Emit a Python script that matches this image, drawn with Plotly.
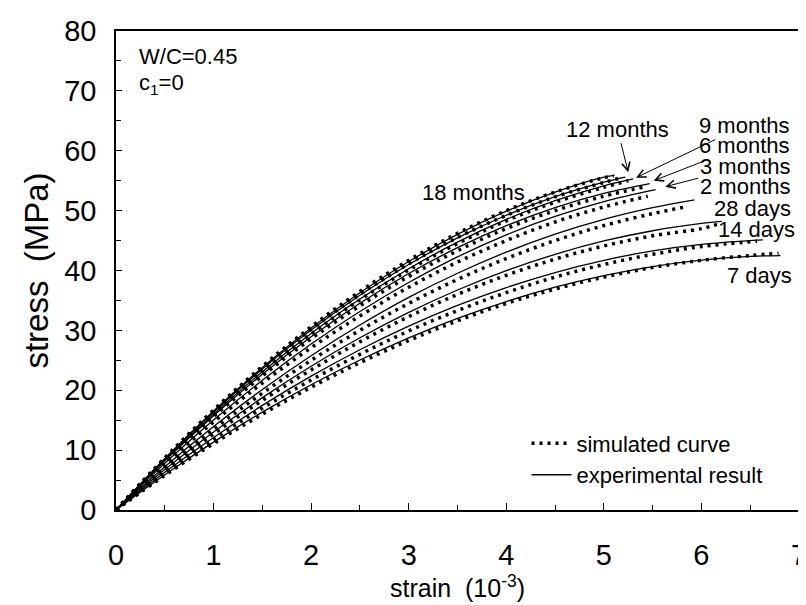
import plotly.graph_objects as go

# ---- data (strain in 1e-3, stress in MPa) ----
ages = ["7 days", "14 days", "28 days", "2 months", "3 months", "6 months", "9 months", "12 months", "18 months"]

exp_strain_7d = [0, 0.5, 1, 1.5, 2, 2.5, 3, 3.5, 4, 4.5, 5, 5.5, 6, 6.5, 6.81]
exp_stress_7d = [0, 5.88, 11.33, 16.35, 20.92, 25.05, 28.75, 32.01, 34.82, 37.21, 39.15, 40.66, 41.72, 42.36, 42.5]
sim_strain_7d = [0, 0.5, 1, 1.5, 2, 2.5, 3, 3.5, 4, 4.5, 5, 5.5, 6, 6.5, 6.79]
sim_stress_7d = [0, 5.8, 11.1, 16.0, 20.5, 24.6, 28.3, 31.6, 34.5, 36.9, 38.9, 40.5, 41.7, 42.5, 42.9]

exp_strain_14d = [0, 0.5, 1, 1.5, 2, 2.5, 3, 3.5, 4, 4.5, 5, 5.5, 6, 6.63]
exp_stress_14d = [0, 6.3, 12.12, 17.47, 22.36, 26.77, 30.7, 34.16, 37.14, 39.66, 41.7, 43.27, 44.36, 45.1]
sim_strain_14d = [0, 0.5, 1, 1.5, 2, 2.5, 3, 3.5, 4, 4.5, 5, 5.5, 6, 6.57]
sim_stress_14d = [0, 6.1, 11.8, 17.0, 21.7, 26.0, 29.9, 33.3, 36.3, 38.9, 41.0, 42.7, 44.0, 44.9]

exp_strain_28d = [0, 0.5, 1, 1.5, 2, 2.5, 3, 3.5, 4, 4.5, 5, 5.5, 6, 6.21]
exp_stress_28d = [0, 6.76, 13.02, 18.77, 24.02, 28.77, 33.0, 36.74, 39.98, 42.7, 44.93, 46.64, 47.86, 48.2]
sim_strain_28d = [0, 0.5, 1, 1.5, 2, 2.5, 3, 3.5, 4, 4.5, 5, 5.5, 6, 6.18]
sim_stress_28d = [0, 6.6, 12.7, 18.3, 23.4, 28.1, 32.3, 36.0, 39.2, 41.9, 44.1, 45.8, 47.0, 47.8]

exp_strain_2m = [0, 0.5, 1, 1.5, 2, 2.5, 3, 3.5, 4, 4.5, 5, 5.5, 5.93]
exp_stress_2m = [0, 7.24, 13.94, 20.12, 25.77, 30.89, 35.5, 39.54, 43.07, 46.08, 48.55, 50.5, 51.8]
sim_strain_2m = [0, 0.5, 1, 1.5, 2, 2.5, 3, 3.5, 4, 4.5, 5, 5.5, 5.86]
sim_stress_2m = [0, 7.0, 13.5, 19.5, 25.0, 30.0, 34.5, 38.5, 42.0, 45.0, 47.5, 49.5, 50.7]

exp_strain_3m = [0, 0.5, 1, 1.5, 2, 2.5, 3, 3.5, 4, 4.5, 5, 5.53]
exp_stress_3m = [0, 7.81, 15.04, 21.67, 27.71, 33.16, 38.0, 42.28, 45.95, 49.03, 51.52, 53.5]
sim_strain_3m = [0, 0.5, 1, 1.5, 2, 2.5, 3, 3.5, 4, 4.5, 5, 5.45]
sim_stress_3m = [0, 7.6, 14.7, 21.2, 27.1, 32.4, 37.2, 41.4, 45.0, 48.1, 50.6, 52.4]

exp_strain_6m = [0, 0.5, 1, 1.5, 2, 2.5, 3, 3.5, 4, 4.5, 5, 5.47]
exp_stress_6m = [0, 8.21, 15.76, 22.67, 28.93, 34.54, 39.5, 43.82, 47.49, 50.51, 52.87, 54.5]
sim_strain_6m = [0, 0.5, 1, 1.5, 2, 2.5, 3, 3.5, 4, 4.5, 5, 5.40]
sim_stress_6m = [0, 8.1, 15.6, 22.4, 28.6, 34.1, 39.0, 43.3, 47.0, 50.0, 52.4, 53.9]

exp_strain_9m = [0, 0.5, 1, 1.5, 2, 2.5, 3, 3.5, 4, 4.5, 5, 5.30]
exp_stress_9m = [0, 8.35, 16.05, 23.09, 29.48, 35.23, 40.3, 44.75, 48.54, 51.67, 54.15, 55.3]
sim_strain_9m = [0, 0.5, 1, 1.5, 2, 2.5, 3, 3.5, 4, 4.5, 5, 5.25]
sim_stress_9m = [0, 8.4, 16.1, 23.1, 29.4, 35.1, 40.1, 44.5, 48.3, 51.4, 53.9, 55.0]

exp_strain_12m = [0, 0.5, 1, 1.5, 2, 2.5, 3, 3.5, 4, 4.5, 5, 5.22]
exp_stress_12m = [0, 8.53, 16.38, 23.55, 30.05, 35.86, 41.0, 45.45, 49.23, 52.33, 54.75, 55.6]
sim_strain_12m = [0, 0.5, 1, 1.5, 2, 2.5, 3, 3.5, 4, 4.5, 5, 5.18]
sim_stress_12m = [0, 8.6, 16.5, 23.7, 30.2, 36.0, 41.1, 45.5, 49.2, 52.3, 54.7, 55.5]

exp_strain_18m = [0, 0.5, 1, 1.5, 2, 2.5, 3, 3.5, 4, 4.5, 5, 5.11]
exp_stress_18m = [0, 8.61, 16.54, 23.8, 30.38, 36.27, 41.5, 46.04, 49.9, 53.09, 55.6, 55.9]
sim_strain_18m = [0, 0.5, 1, 1.5, 2, 2.5, 3, 3.5, 4, 4.5, 5, 5.10]
sim_stress_18m = [0, 8.7, 16.7, 24.0, 30.6, 36.5, 41.7, 46.2, 50.0, 53.1, 55.5, 55.8]

x_ticks = [0, 1, 2, 3, 4, 5, 6, 7]
y_ticks = [0, 10, 20, 30, 40, 50, 60, 70, 80]

# label positions (strain, stress) and arrow tips where the label has an arrow
label_text = ["18 months", "12 months", "9 months", "6 months", "3 months", "2 months", "28 days", "14 days", "7 days"]
label_x = [3.66, 5.14, 6.44, 6.44, 6.45, 6.45, 6.52, 6.56, 6.59]
label_y = [53.1, 63.6, 64.2, 60.9, 57.45, 53.95, 50.3, 46.8, 39.1]
arrow_x = [None, 5.25, 5.33, 5.51, 5.63, None, None, None, None]
arrow_y = [None, 56.4, 55.5, 55.0, 54.0, None, None, None, None]

FONT = "Liberation Sans, Arial, Helvetica, sans-serif"

exp_sets = [(exp_strain_7d, exp_stress_7d), (exp_strain_14d, exp_stress_14d), (exp_strain_28d, exp_stress_28d),
            (exp_strain_2m, exp_stress_2m), (exp_strain_3m, exp_stress_3m), (exp_strain_6m, exp_stress_6m),
            (exp_strain_9m, exp_stress_9m), (exp_strain_12m, exp_stress_12m), (exp_strain_18m, exp_stress_18m)]
sim_sets = [(sim_strain_7d, sim_stress_7d), (sim_strain_14d, sim_stress_14d), (sim_strain_28d, sim_stress_28d),
            (sim_strain_2m, sim_stress_2m), (sim_strain_3m, sim_stress_3m), (sim_strain_6m, sim_stress_6m),
            (sim_strain_9m, sim_stress_9m), (sim_strain_12m, sim_stress_12m), (sim_strain_18m, sim_stress_18m)]

fig = go.Figure()
for i, (xs, ys) in enumerate(sim_sets):
    fig.add_trace(go.Scatter(x=xs, y=ys, mode="lines", line=dict(color="black", width=3.5, dash="3px,5px", shape="spline"),
                             name="simulated curve", showlegend=(i == 0), legendrank=1, hoverinfo="skip"))
for i, (xs, ys) in enumerate(exp_sets):
    fig.add_trace(go.Scatter(x=xs, y=ys, mode="lines", line=dict(color="black", width=1.3, shape="spline"),
                             name="experimental result", showlegend=(i == 0), legendrank=2, hoverinfo="skip"))

for t, lx, ly, axp, ayp in zip(label_text, label_x, label_y, arrow_x, arrow_y):
    if axp is None:
        fig.add_annotation(x=lx, y=ly, xref="x", yref="y", text=t, showarrow=False,
                           font=dict(size=22, color="black", family=FONT))
    else:
        fig.add_annotation(x=axp, y=ayp, xref="x", yref="y", ax=lx, ay=ly, axref="x", ayref="y",
                           text=t, showarrow=True, arrowhead=5, arrowsize=1.6, arrowwidth=1,
                           arrowcolor="black", standoff=0, startstandoff=0,
                           font=dict(size=22, color="black", family=FONT))
fig.add_annotation(x=0.22, y=75.8, xref="x", yref="y", text="W/C=0.45", showarrow=False,
                   xanchor="left", yanchor="middle", font=dict(size=22, color="black", family=FONT))
fig.add_annotation(x=0.22, y=71.1, xref="x", yref="y", text="c<sub>1</sub>=0", showarrow=False,
                   xanchor="left", yanchor="middle", font=dict(size=22, color="black", family=FONT))

fig.update_xaxes(range=[0, 7], tickvals=x_ticks, ticks="inside", ticklen=7, tickwidth=1.3, tickcolor="black",
                 minor=dict(dtick=0.5, ticks="inside", ticklen=5, tickwidth=1.3, tickcolor="black"),
                 showline=True, linecolor="black", linewidth=1.5, mirror=True, showgrid=False, zeroline=False,
                 tickfont=dict(size=29, family=FONT, color="black"), ticklabelstandoff=18,
                 title=dict(text="strain\u00a0 (10<sup>-3</sup>)", font=dict(size=25, family=FONT, color="black"), standoff=10))
fig.update_yaxes(range=[0, 80], tickvals=y_ticks, ticks="inside", ticklen=6, tickwidth=1.3, tickcolor="black",
                 minor=dict(dtick=5, ticks="inside", ticklen=5, tickwidth=1.3, tickcolor="black"),
                 showline=True, linecolor="black", linewidth=1.5, mirror=True, showgrid=False, zeroline=False,
                 tickfont=dict(size=29, family=FONT, color="black"), ticklabelstandoff=12,
                 title=dict(text="stress\u00a0 (MPa)", font=dict(size=33, family=FONT, color="black"), standoff=6))

fig.update_layout(width=806, height=605, margin=dict(l=108, r=7, t=22, b=103),
                  paper_bgcolor="white", plot_bgcolor="white", font=dict(family=FONT, color="black"),
                  legend=dict(x=0.601, y=0.183, xanchor="left", yanchor="top", bgcolor="rgba(0,0,0,0)",
                              font=dict(size=22, family=FONT, color="black"), tracegroupgap=0, itemwidth=40))
fig.write_html("out.html")
